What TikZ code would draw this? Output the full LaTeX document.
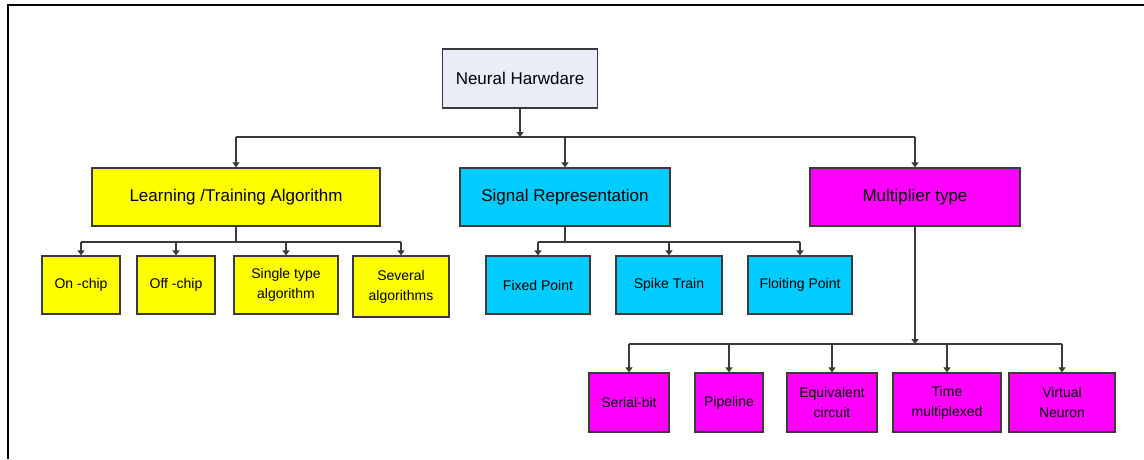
\documentclass[tikz,border=0pt]{standalone}
\usepackage{fontspec}
\setmainfont{Liberation Sans}
\usetikzlibrary{arrows.meta}
\definecolor{rootfill}{HTML}{E8EDF8}
\definecolor{yel}{HTML}{FFFF00}
\definecolor{cyn}{HTML}{00CCFF}
\definecolor{mag}{HTML}{FF00FF}
\definecolor{edge}{HTML}{3A3A3A}
\tikzset{
  box/.style={draw=edge, line width=1.3pt, inner sep=0pt, align=center, text=black},
  big/.style={box, font=\fontsize{17}{20}\selectfont},
  small/.style={box, font=\fontsize{14}{20}\selectfont},
  wire/.style={draw=edge, line width=1.4pt},
  arr/.style={wire, -{Triangle[width=7pt,length=5pt]}},
}
\begin{document}
\begin{tikzpicture}[x=1pt, y=-1pt]
\useasboundingbox (0,0) rectangle (1144,459);
% outer frame (top and left edges)
\draw[line width=2pt] (8,459) -- (8,5) -- (1144,5);

% root
\node[big, fill=rootfill, minimum width=155pt, minimum height=59pt] (root) at (520,78.5) {Neural Harwdare};

% second level
\node[big, fill=yel, minimum width=288pt, minimum height=58pt] (learn) at (236,197) {Learning /Training Algorithm};
\node[big, fill=cyn, minimum width=210pt, minimum height=58pt] (sig) at (565,197) {Signal Representation};
\node[big, fill=mag, minimum width=210pt, minimum height=58pt] (mult) at (915,197) {Multiplier type};

% learning algorithm leaves
\node[small, fill=yel, minimum width=78pt, minimum height=58pt] (on) at (81,285) {On -chip};
\node[small, fill=yel, minimum width=78pt, minimum height=58pt] (off) at (176,285) {Off -chip};
\node[small, fill=yel, minimum width=104pt, minimum height=58pt] (single) at (286,285) {Single type\\algorithm};
\node[small, fill=yel, minimum width=96pt, minimum height=61pt] (several) at (401,286.5) {Several\\algorithms};

% signal representation leaves
\node[small, fill=cyn, minimum width=104pt, minimum height=58pt] (fixed) at (538,285) {Fixed Point};
\node[small, fill=cyn, minimum width=106pt, minimum height=58pt] (spike) at (669,285) {Spike Train};
\node[small, fill=cyn, minimum width=104pt, minimum height=58pt] (float) at (800,285) {Floiting Point};

% multiplier leaves
\node[small, fill=mag, minimum width=80pt, minimum height=59pt] (serial) at (629,402.5) {Serial-bit};
\node[small, fill=mag, minimum width=68pt, minimum height=59pt] (pipe) at (729,402.5) {Pipeline};
\node[small, fill=mag, minimum width=90pt, minimum height=59pt] (equiv) at (832,402.5) {Equivalent\\circuit};
\node[small, fill=mag, minimum width=108pt, minimum height=59pt] (time) at (947,402.5) {Time\\multiplexed};
\node[small, fill=mag, minimum width=106pt, minimum height=59pt] (virt) at (1062,402.5) {Virtual\\Neuron};

% bus levels
\coordinate (busA) at (0,137);
\coordinate (busL) at (0,242);
\coordinate (busS) at (0,242);
\coordinate (busM) at (0,344);

% root to second level
\draw[arr] (root.south) -- (root.south |- busA);
\draw[wire] (learn.north |- busA) -- (mult.north |- busA);
\foreach \n in {learn,sig,mult}
  \draw[arr] (\n.north |- busA) -- (\n.north);

% learning algorithm branch
\draw[wire] (learn.south) -- (learn.south |- busL);
\draw[wire] (on.north |- busL) -- (several.north |- busL);
\foreach \n in {on,off,single,several}
  \draw[arr] (\n.north |- busL) -- (\n.north);

% signal representation branch
\draw[wire] (sig.south) -- (sig.south |- busS);
\draw[wire] (fixed.north |- busS) -- (float.north |- busS);
\foreach \n in {fixed,spike,float}
  \draw[arr] (\n.north |- busS) -- (\n.north);

% multiplier branch
\draw[arr] (mult.south) -- (mult.south |- busM);
\draw[wire] (serial.north |- busM) -- (virt.north |- busM);
\foreach \n in {serial,pipe,equiv,time,virt}
  \draw[arr] (\n.north |- busM) -- (\n.north);
\end{tikzpicture}
\end{document}
